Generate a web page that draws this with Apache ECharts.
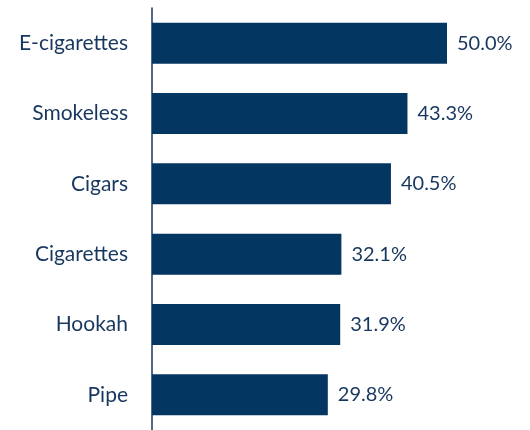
<!DOCTYPE html>
<html>
<head>
<meta charset="utf-8">
<script src="https://cdn.jsdelivr.net/npm/echarts@6/dist/echarts.min.js"></script>
<style>
  html, body { margin: 0; padding: 0; background: #fff; }
  #chart { width: 530px; height: 430px; }
</style>
</head>
<body>
<div id="chart"></div>
<script>
const categories = ["E-cigarettes", "Smokeless", "Cigars", "Cigarettes", "Hookah", "Pipe"];
const values = [50.0, 43.3, 40.5, 32.1, 31.9, 29.8];

const chart = echarts.init(document.getElementById("chart"));

const options = {
  animation: false,
  grid: { left: 152, right: 24, top: 8, bottom: 0, containLabel: false },
  xAxis: {
    type: "value",
    min: 0,
    max: 60,
    show: false,
  },
  yAxis: {
    type: "category",
    inverse: true,
    data: categories,
    axisLine: { show: true, lineStyle: { color: "#17375e", width: 1.5 } },
    axisTick: { show: false },
    axisLabel: {
      color: "#17375e",
      fontFamily: "Lato",
      fontSize: 21,
      margin: 24,
    },
  },
  series: [
    {
      type: "bar",
      data: values,
      barWidth: 41,
      itemStyle: { color: "#043662" },
      label: {
        show: true,
        position: "right",
        distance: 10,
        color: "#17375e",
        fontFamily: "Lato",
        fontSize: 20,
        formatter: (p) => p.value.toFixed(1) + "%",
      },
    },
  ],
};

chart.setOption(options);
</script>
</body>
</html>
